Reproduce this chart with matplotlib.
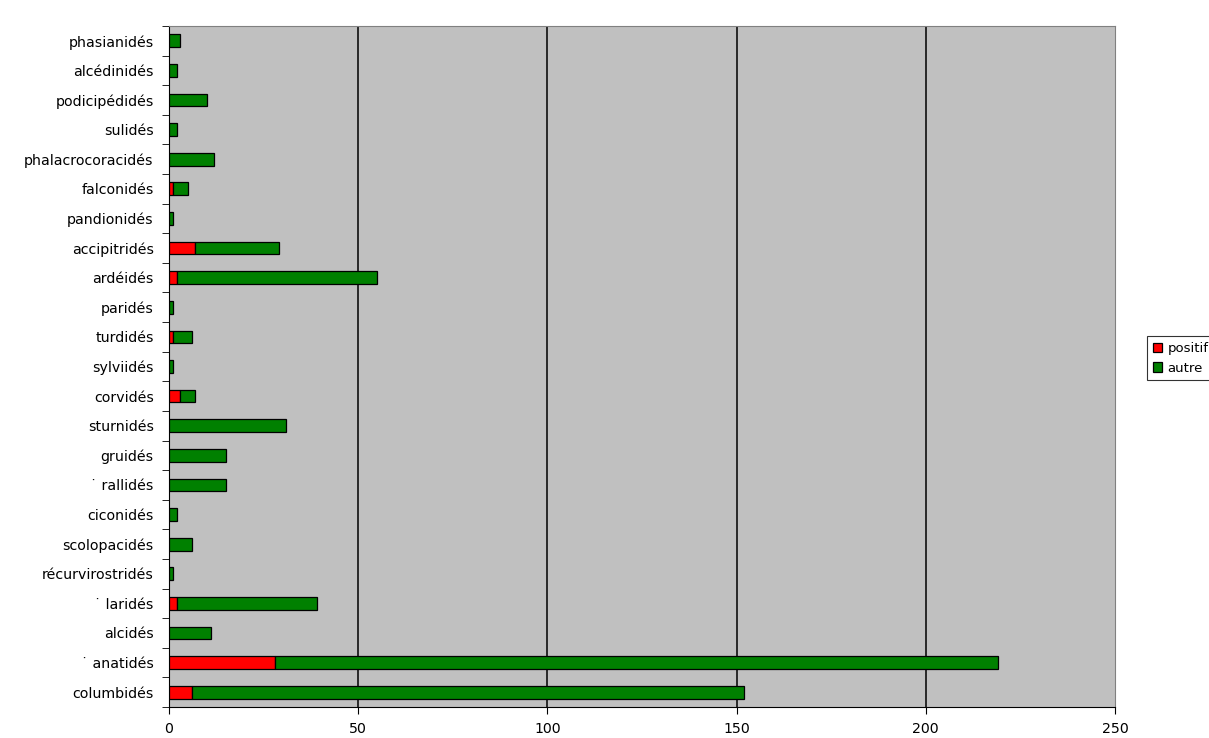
import numpy as np
import matplotlib.pyplot as plt

# familles, du bas vers le haut
familles = ["columbidés", "˙ anatidés", "alcidés", "˙ laridés", "récurvirostridés",
            "scolopacidés", "ciconidés", "˙ rallidés", "gruidés", "sturnidés",
            "corvidés", "sylviidés", "turdidés", "paridés", "ardéidés",
            "accipitridés", "pandionidés", "falconidés", "phalacrocoracidés",
            "sulidés", "podicipédidés", "alcédinidés", "phasianidés"]
positif = [6, 28, 0, 2, 0, 0, 0, 0, 0, 0, 3, 0, 1, 0, 2, 7, 0, 1, 0, 0, 0, 0, 0]
autre = [146, 191, 11, 37, 1, 6, 2, 15, 15, 31, 4, 1, 5, 1, 53, 22, 1, 4, 12, 2, 10, 2, 3]
xticks = [0, 50, 100, 150, 200, 250]

fig = plt.figure(figsize=(12.09, 7.38), dpi=100)
ax = fig.add_axes([169 / 1209, 1 - 707 / 738, (1115 - 169) / 1209, (707 - 26) / 738])
ax.set_facecolor("#c0c0c0")

y = np.arange(len(familles))
ax.barh(y, positif, height=0.43, color="#ff0000", edgecolor="black", linewidth=0.9,
        label="positif", zorder=3)
ax.barh(y, autre, left=positif, height=0.43, color="#008000", edgecolor="black",
        linewidth=0.9, label="autre", zorder=3)

ax.set_xlim(0, 250)
ax.set_ylim(-0.5, len(familles) - 0.5)
ax.set_xticks(xticks)
ax.set_yticks(y)
ax.set_yticklabels(familles, fontsize=10.2)
ax.tick_params(axis="y", length=0, pad=11)
ax.set_yticks(np.arange(len(familles) + 1) - 0.5, minor=True)
ax.tick_params(axis="y", which="minor", length=5, direction="out")
ax.tick_params(axis="x", length=5, direction="out", labelsize=10.2, pad=6)

for v in xticks[1:-1]:
    ax.axvline(v, color="black", linewidth=1.1, zorder=2)

for side in ["top", "right"]:
    ax.spines[side].set_color("#808080")
ax.spines["left"].set_color("black")
ax.spines["bottom"].set_color("black")

leg = fig.legend(loc="upper left", bbox_to_anchor=(1147 / 1209, 1 - 336 / 738),
                 fontsize=9.5, frameon=True, fancybox=False, edgecolor="black",
                 handlelength=0.7, handleheight=0.7, handletextpad=0.4,
                 borderpad=0.45, labelspacing=0.5, borderaxespad=0)
leg.get_frame().set_linewidth(0.8)

fig.savefig("out.png", dpi=100)
